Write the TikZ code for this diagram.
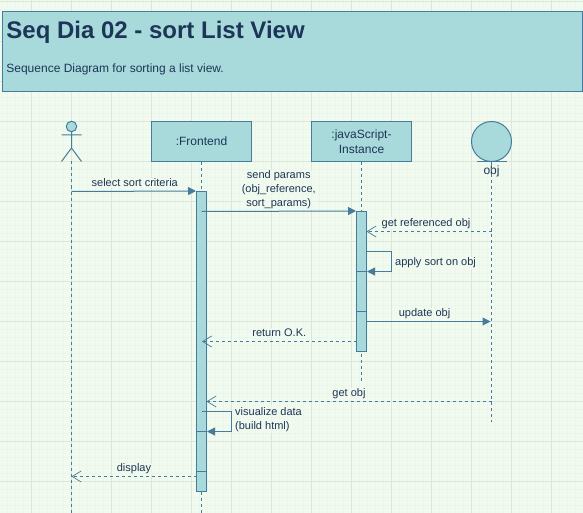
\documentclass[tikz,border=0pt]{standalone}
\usepackage{fontspec}
\setmainfont{Liberation Sans}
\usetikzlibrary{arrows.meta}
\definecolor{bgc}{HTML}{F1FAEE}
\definecolor{gridmin}{HTML}{ECF5E9}
\definecolor{gridmaj}{HTML}{DEE6DC}
\definecolor{boxfill}{HTML}{A8DADC}
\definecolor{edge}{HTML}{457B9D}
\definecolor{ink}{HTML}{1D3557}
\tikzset{
  box/.style={draw=edge,fill=boxfill,line width=1pt,minimum width=100pt,minimum height=40pt,inner sep=0pt,align=center,text=ink,font=\fontsize{12}{15}\selectfont,opacity=1},
  activ/.style={draw=edge,fill=boxfill,line width=1pt,minimum width=10pt,inner sep=0pt},
  life/.style={draw=edge,line width=1pt,dash pattern=on 3pt off 3pt},
  msg/.style={draw=edge,line width=1pt,-{Triangle[length=8pt,width=8pt,fill=edge]}},
  ret/.style={draw=edge,line width=1pt,dash pattern=on 3pt off 3pt,-{Straight Barb[length=9pt,width=11pt,line width=0.7pt]}},
  lbl/.style={font=\fontsize{11}{14}\selectfont,text=ink,fill=bgc,fill opacity=0.75,text opacity=1,inner sep=1pt,align=center}
}
\begin{document}
\begin{tikzpicture}[x=1pt,y=-1pt]
\useasboundingbox (0,0) rectangle (583,513);
\fill[bgc] (0,0) rectangle (583,513);
\foreach \i in {-0.5,7.5,...,583}{\draw[gridmin,line width=1.2pt] (\i,0) -- (\i,513);}
\foreach \i in {1.5,9.5,...,513}{\draw[gridmin,line width=1.2pt] (0,\i) -- (583,\i);}
\foreach \i in {31.5,71.5,...,583}{\draw[gridmaj,line width=1pt] (\i,0) -- (\i,513);}
\foreach \i in {1.5,41.5,...,513}{\draw[gridmaj,line width=1pt] (0,\i) -- (583,\i);}
% title
\node[draw=edge,fill=boxfill,line width=1pt,minimum width=580pt,minimum height=80pt,inner sep=0pt,anchor=north west] (title) at (1.5,11.5) {};
\node[anchor=west,inner sep=0pt,text=ink,font=\fontsize{24}{28}\selectfont\bfseries] (titletext) at (6.2,32) {Seq Dia 02 - sort List View};
\node[anchor=west,inner sep=0pt,text=ink,font=\fontsize{12}{15}\selectfont] (subtext) at (6.2,69) {Sequence Diagram for sorting a list view.};
% lifelines
\coordinate (actorfoot) at (71.5,161.5);
\coordinate (actorend) at (71.5,513);
\node[box] (front) at (201.5,141.5) {:Frontend};
\node[box] (js) at (361.5,141.5) {:javaScript-\\Instance};
\node[circle,draw=edge,fill=boxfill,line width=1pt,minimum size=40pt,inner sep=0pt] (objc) at (491.5,141.5) {};
\coordinate (frontend) at (201.5,513);
\coordinate (jsend) at (361.5,381.5);
\coordinate (objend) at (491.5,421.5);
\draw[life] (actorfoot) -- (actorend);
\draw[life] (front.south) -- (frontend);
\draw[life] (js.south) -- (jsend);
\coordinate (objl) at (476.5,161.5);
\coordinate (objr) at (506.5,161.5);
\draw[draw=edge,line width=1pt] (objl) -- (objr);
\node[inner sep=0pt,text=ink,font=\fontsize{12}{15}\selectfont] (objt) at (491.5,171) {obj};
\draw[life] (objc.south) -- (objend);
% actor
\node[circle,draw=edge,fill=boxfill,line width=1pt,minimum size=10.5pt,inner sep=0pt] (head) at (71.5,126.5) {};
\coordinate (armL) at (61.5,135);
\coordinate (armR) at (81.5,135);
\coordinate (hip) at (71.5,148);
\coordinate (legL) at (61.5,161.5);
\coordinate (legR) at (81.5,161.5);
\draw[draw=edge,line width=1pt] (head.south) -- (hip) (armL) -- (armR) (legL) -- (hip) -- (legR);
% activations
\node[activ,minimum height=300pt] (a1) at (201.5,341.5) {};
\node[activ,minimum height=140pt] (a2) at (361.5,281.5) {};
\foreach \y/\n in {431.5/p1,471.5/p2}{\draw[draw=edge,line width=1pt] (a1.west |- 0,\y) -- (a1.east |- 0,\y);}
\foreach \y/\n in {271.5/p3,311.5/p4}{\draw[draw=edge,line width=1pt] (a2.west |- 0,\y) -- (a2.east |- 0,\y);}
% messages
\draw[msg] (71.5,191.5) -- (a1.north west) node[lbl,pos=0.5,above=3pt,xshift=1pt] (m1) {select sort criteria};
\draw[msg] (201.5,211.5) -- (a2.north west) node[lbl,pos=0.5,above=0.5pt] (m2) {send params\\(obj\_reference,\\sort\_params)};
\draw[ret] (491.5,231.5) -- (366.5,231.5) node[lbl,pos=0.5,above=1.5pt,xshift=-3pt] (m3) {get referenced obj};
\draw[msg] (366.5,251.5) -- (391.5,251.5) -- (391.5,271.5) -- (367,271.5);
\node[lbl,anchor=west] (m4) at (394,263) {apply sort on obj};
\draw[msg] (366.5,321.5) -- (490.5,321.5) node[lbl,pos=0.46,above=1pt,xshift=1pt] (m5) {update obj};
\draw[ret] (356.5,341.5) -- (202,341.5) node[lbl,pos=0.5,above=3.5pt] (m6) {return O.K.};
\draw[ret] (491.5,401.5) -- (206.5,401.5) node[lbl,pos=0.5,above=1pt] (m7) {get obj};
\draw[msg] (201.5,411.5) -- (231.5,411.5) -- (231.5,431.5) -- (207,431.5);
\node[lbl,anchor=west,align=left] (m8) at (234,419.5) {visualize data\\(build html)};
\draw[ret] (196.5,476.5) -- (71.5,476.5) node[lbl,pos=0.5,above=1pt] (m9) {display};
\end{tikzpicture}
\end{document}
